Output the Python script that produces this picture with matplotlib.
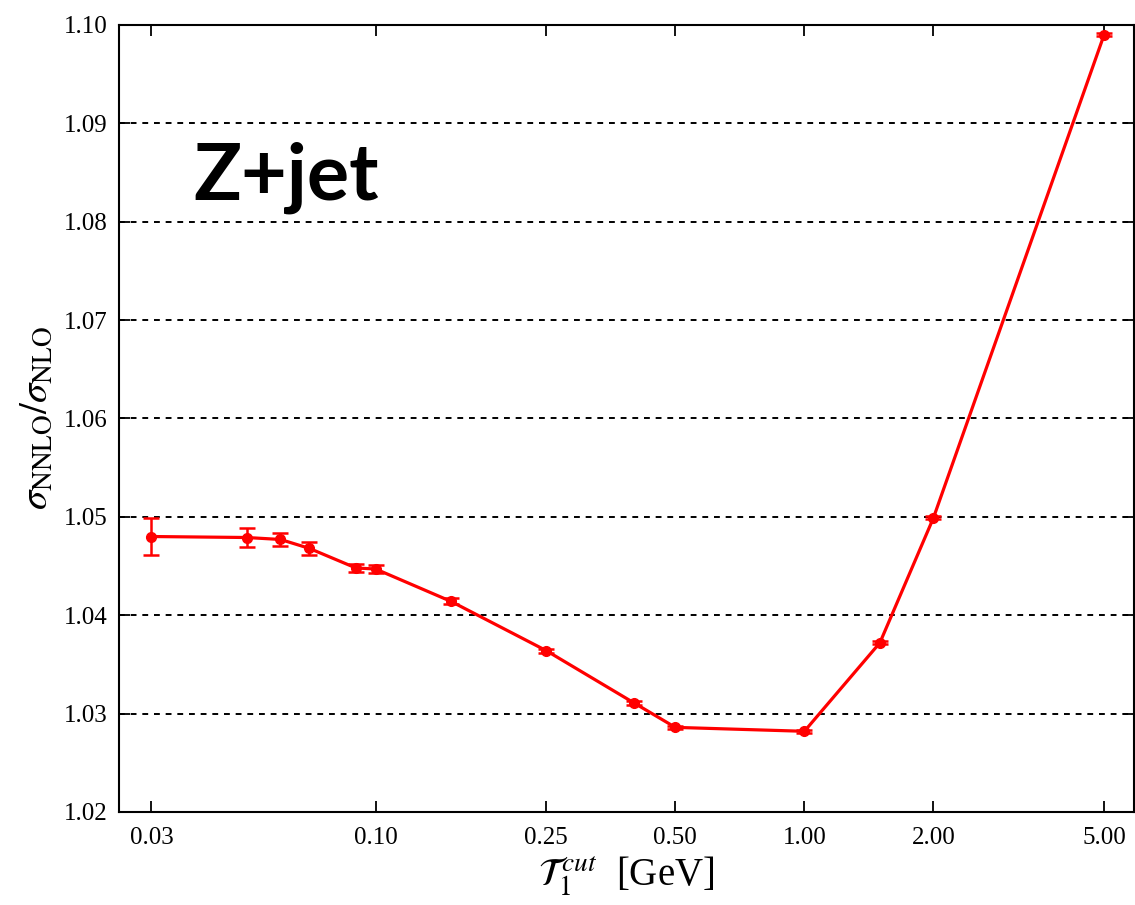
import matplotlib
matplotlib.use("Agg")
import matplotlib.pyplot as plt
from matplotlib.ticker import FixedLocator, FixedFormatter, NullLocator

plt.rcParams['font.family'] = ['Liberation Serif', 'DejaVu Serif']
plt.rcParams['mathtext.fontset'] = 'stix'

# Data
tau_cut = [0.03, 0.05, 0.06, 0.07, 0.09, 0.10, 0.15, 0.25, 0.40, 0.50, 1.00, 1.50, 2.00, 5.00]
ratio = [1.0480, 1.0479, 1.0477, 1.0468, 1.0448, 1.0447, 1.0414, 1.0364,
         1.0311, 1.0286, 1.0282, 1.0372, 1.0499, 1.0990]
ratio_err = [0.0019, 0.0010, 0.0007, 0.00065, 0.00045, 0.00045, 0.0003, 0.0002,
             0.0002, 0.00015, 0.00015, 0.00015, 0.00015, 0.00015]

x_ticks = [0.03, 0.10, 0.25, 0.50, 1.00, 2.00, 5.00]
x_tick_labels = ["0.03", "0.10", "0.25", "0.50", "1.00", "2.00", "5.00"]
y_ticks = [1.02, 1.03, 1.04, 1.05, 1.06, 1.07, 1.08, 1.09, 1.10]

fig = plt.figure(figsize=(11.35, 9.05), dpi=100)
ax = fig.add_axes([0.1048, 0.1028, 0.894, 0.8696])

# horizontal dashed grid lines at inner y ticks
for yv in y_ticks[1:-1]:
    ax.axhline(yv, color='black', lw=1.4, ls=(0, (3, 3)), zorder=1)

ax.errorbar(tau_cut, ratio, yerr=ratio_err, color='red', marker='o',
            markersize=7, lw=2.3, elinewidth=1.8, capsize=6, capthick=1.8,
            zorder=3)

ax.set_xscale('log')
ax.set_xlim(0.0252, 5.86)
ax.set_ylim(1.02, 1.10)
ax.xaxis.set_major_locator(FixedLocator(x_ticks))
ax.xaxis.set_major_formatter(FixedFormatter(x_tick_labels))
ax.xaxis.set_minor_locator(NullLocator())
ax.set_yticks(y_ticks)
ax.set_yticklabels([f"{v:.2f}" for v in y_ticks])

ax.tick_params(direction='in', length=8, width=1.3, labelsize=18,
               top=True, right=True, pad=8)
ax.tick_params(axis='x', pad=11)
for s in ax.spines.values():
    s.set_linewidth(1.5)

ax.set_xlabel(r'$\mathcal{T}_1^{\,cut}$  [GeV]', fontsize=28, labelpad=4)
ax.set_ylabel(r'$\sigma_{\rm NNLO}/\sigma_{\rm NLO}$', fontsize=28, labelpad=6)

ax.text(0.073, 0.778, 'Z+jet', transform=ax.transAxes, fontsize=57,
        fontweight='bold', family=['Lato', 'DejaVu Sans'], va='baseline',
        ha='left')

fig.savefig('out.png', dpi=100)
